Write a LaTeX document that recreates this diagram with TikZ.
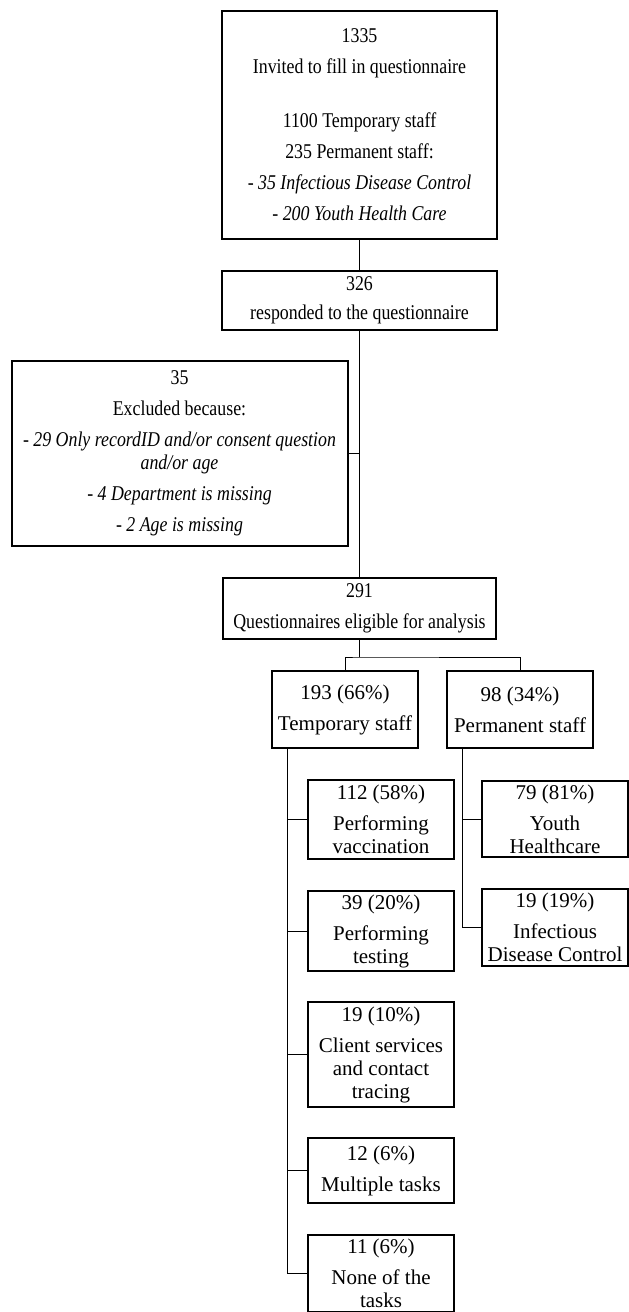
\documentclass[tikz,border=0pt]{standalone}
\usepackage{fontspec}
\setmainfont{Liberation Serif}
\newfontfamily\narrowserif[FakeStretch=0.85]{Liberation Serif}
\usetikzlibrary{positioning}

\begin{document}
\begin{tikzpicture}[
   node distance = 32pt,
   box/.style = {draw, rectangle, line width=2pt, inner sep=0pt, outer sep=0pt, align=center, font={\narrowserif\fontsize{21pt}{23pt}\selectfont}},
   subbox/.style = {draw, rectangle, line width=1.7pt, inner sep=0pt, outer sep=0pt, minimum width=146pt, align=center, font={\fontsize{21pt}{23pt}\selectfont}},
   line/.style = {draw, line width=1pt}
   ]
  \useasboundingbox (0,0) rectangle (629pt,-1312pt);

  % Invited box
  \node[box, minimum width=275pt, minimum height=228pt] (invited) at (359.5pt,-125pt)
   {1335\\[8pt]
   Invited to fill in questionnaire\\[31pt]
   1100 Temporary staff\\[8pt]
   235 Permanent staff:\\[8pt]
   \textit{- 35 Infectious Disease Control}\\[8pt]
   \textit{- 200 Youth Health Care}};

  % Responded box
  \node[box, minimum width=275pt, minimum height=59pt, below=of invited] (responded)
   {326\\[6pt]
   responded to the questionnaire};

  % Excluded box
  \node[box, minimum width=336pt, minimum height=185pt, below left=31pt and 12pt of responded.south] (excluded)
   {35\\[8pt]
   Excluded because:\\[8pt]
   \textit{- 29 Only recordID and/or consent question}\\
   \textit{and/or age}\\[8pt]
   \textit{- 4 Department is missing}\\[8pt]
   \textit{- 2 Age is missing}};

  % Eligible box
  \node[box, minimum width=273pt, minimum height=61pt, below=248pt of responded] (eligible)
   {291\\[8pt]
   Questionnaires eligible for analysis};

  % Staff boxes
  \node[subbox, minimum height=77pt, below=32pt of eligible, xshift=-14.5pt] (temp)
   {193 (66\%)\\[8pt]
   Temporary staff};
  \node[subbox, minimum height=77pt, right=29pt of temp] (perm)
   {98 (34\%)\\[8pt]
   Permanent staff};

  % Temporary staff tasks
  \node[subbox, minimum height=79pt, below=32pt of temp, xshift=36pt] (vacc)
   {112 (58\%)\\[8pt]
   Performing\\
   vaccination};
  \node[subbox, minimum height=80pt, below=of vacc] (testing)
   {39 (20\%)\\[8pt]
   Performing\\
   testing};
  \node[subbox, minimum height=105pt, below=31pt of testing] (client)
   {19 (10\%)\\[8pt]
   Client services\\
   and contact\\
   tracing};
  \node[subbox, minimum height=65pt, below=31pt of client] (multi)
   {12 (6\%)\\[8pt]
   Multiple tasks};
  \node[subbox, minimum height=77pt, below=of multi] (none)
   {11 (6\%)\\[8pt]
   None of the\\
   tasks};

  % Permanent staff departments
  \node[subbox, minimum height=76pt, below=33pt of perm, xshift=35pt] (youth)
   {79 (81\%)\\[8pt]
   Youth\\
   Healthcare};
  \node[subbox, minimum height=77pt, below=of youth] (idc)
   {19 (19\%)\\[8pt]
   Infectious\\
   Disease Control};

  % Lines
  \draw[line] (invited) -- (responded);
  \draw[line] (responded) -- (eligible);
  \draw[line] (excluded.east) -- (excluded.east -| responded.south);
  \draw[line] (eligible.south) -- ++(0,-18pt) coordinate (split);
  \draw[line] (temp.north) |- (split) -| (perm.north);
  \coordinate (tempstem) at ([xshift=15pt]temp.south west);
  \coordinate (permstem) at ([xshift=15pt]perm.south west);
  \draw[line] (vacc.west) -| (tempstem);
  \draw[line] (testing.west) -| (tempstem);
  \draw[line] (client.west) -| (tempstem);
  \draw[line] (multi.west) -| (tempstem);
  \draw[line] (none.west) -| (tempstem);
  \draw[line] (youth.west) -| (permstem);
  \draw[line] (idc.west) -| (permstem);
\end{tikzpicture}
\end{document}
